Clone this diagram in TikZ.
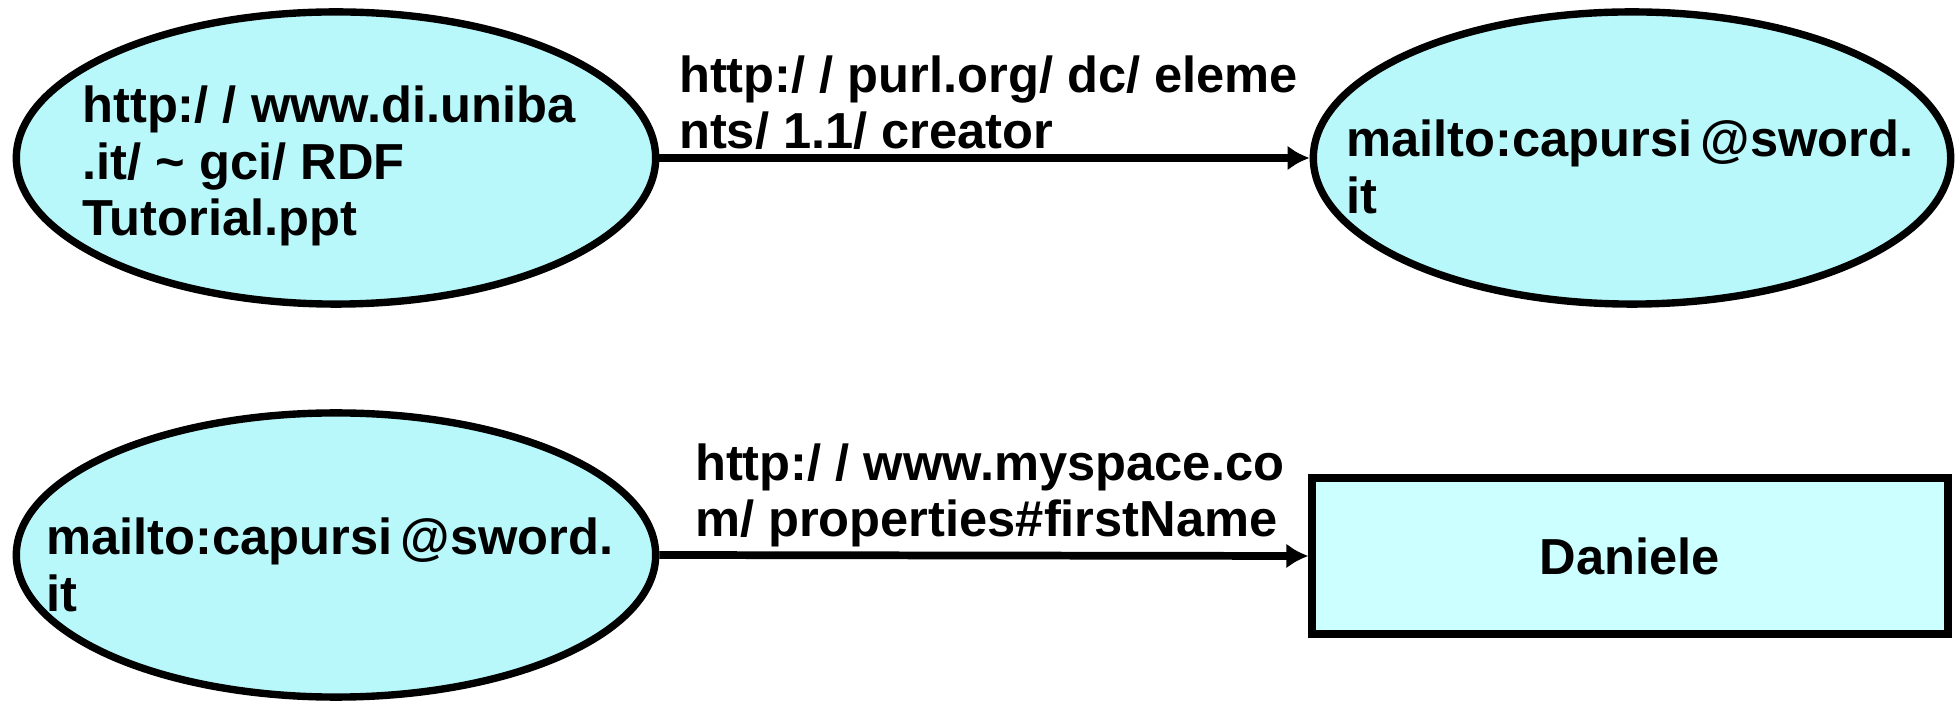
\documentclass[tikz,border=0pt]{standalone}
\usepackage{fontspec}
\setmainfont{Liberation Sans}
\usetikzlibrary{shapes.geometric,positioning,arrows.meta}
\definecolor{resfill}{RGB}{184,248,250}
\definecolor{litfill}{RGB}{204,255,255}
\begin{document}
\begin{tikzpicture}[x=0.01cm,y=-0.01cm,
    every node/.style={font=\fontsize{14.4}{16}\selectfont\bfseries},
    res/.style={ellipse, draw, line width=2.1pt, fill=resfill, inner sep=0pt},
    lit/.style={rectangle, draw, line width=2.2pt, fill=litfill, inner sep=0pt,
      minimum width=6.35cm, minimum height=1.56cm},
    uri/.style={align=left, inner sep=0pt},
    propedge/.style={line width=2.2pt, -{Latex[length=2.2mm,width=2.5mm]}}]
  \useasboundingbox (0,0) rectangle (1955,707);
  % First statement: document and its creator
  \node[res, minimum width=6.39cm, minimum height=2.92cm] (doc) at (336,158) {};
  \node[uri, anchor=west] (doctext) at ([xshift=0.69cm, yshift=-0.08cm]doc.west)
    {http:/ / www.di.uniba\\.it/ \textasciitilde\ gci/ RDF\\Tutorial.ppt};
  \node[res, minimum width=6.37cm, minimum height=2.92cm] (creator) at (1632,158) {};
  \node[uri, anchor=west] (creatortext) at ([xshift=0.36cm, yshift=-0.09cm]creator.west)
    {mailto:capursi\,@sword.\\it};
  % Property edge:
  \draw[propedge] (doc.east) -- (creator.west);
  \node[uri, above right=0.08cm and 0.19cm of doc.east] (creatorprop)
    {http:/ / purl.org/ dc/ eleme\\nts/ 1.1/ creator};
  % Second statement: person and first name literal
  \node[res, minimum width=6.39cm, minimum height=2.84cm] (person) at (336,555) {};
  \node[uri, anchor=west] (persontext) at ([xshift=0.33cm, yshift=-0.1cm]person.west)
    {mailto:capursi\,@sword.\\it};
  \node[lit] (name) at (1630,556) {Daniele};
  % Property edge:
  \draw[propedge] (person.east) -- (name.west);
  \node[uri, above right=0.07cm and 0.35cm of person.east] (nameprop)
    {http:/ / www.myspace.co\\m/ properties\#firstName};
\end{tikzpicture}
\end{document}
